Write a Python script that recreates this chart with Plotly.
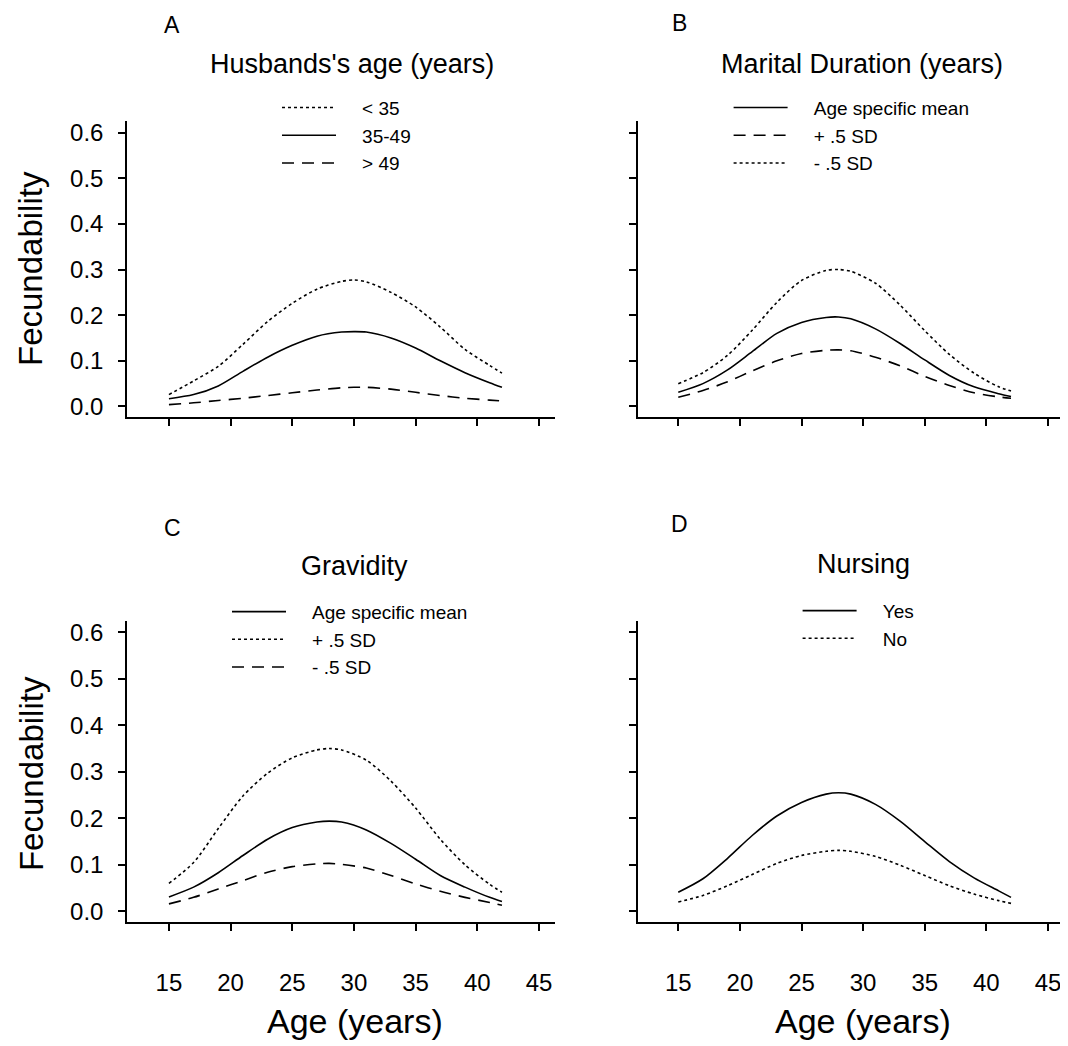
import plotly.graph_objects as go

# ---------------- data ----------------
AGES_A = [15, 17, 19, 21, 23, 25, 27, 29, 30, 31, 33, 35, 37, 39, 41, 42]
A_LT35 = [0.026, 0.056, 0.088, 0.136, 0.186, 0.226, 0.257, 0.274, 0.277, 0.273, 0.250, 0.218, 0.174, 0.125, 0.090, 0.073]
A_35_49 = [0.017, 0.026, 0.045, 0.077, 0.108, 0.134, 0.154, 0.163, 0.164, 0.163, 0.150, 0.128, 0.100, 0.074, 0.052, 0.042]
A_GT49 = [0.004, 0.008, 0.013, 0.018, 0.024, 0.030, 0.036, 0.041, 0.042, 0.042, 0.038, 0.031, 0.024, 0.018, 0.014, 0.012]

AGES = [15, 17, 19, 21, 23, 25, 27, 28, 29, 31, 33, 35, 37, 39, 41, 42]
B_MEAN = [0.031, 0.050, 0.080, 0.120, 0.160, 0.184, 0.195, 0.196, 0.192, 0.170, 0.138, 0.102, 0.068, 0.043, 0.028, 0.022]
B_PLUS = [0.020, 0.035, 0.054, 0.078, 0.100, 0.116, 0.123, 0.124, 0.122, 0.108, 0.089, 0.066, 0.046, 0.030, 0.021, 0.018]
B_MINUS = [0.050, 0.074, 0.112, 0.167, 0.228, 0.276, 0.298, 0.300, 0.296, 0.270, 0.222, 0.166, 0.114, 0.073, 0.043, 0.034]

C_MEAN = [0.031, 0.052, 0.083, 0.120, 0.155, 0.180, 0.192, 0.194, 0.192, 0.175, 0.146, 0.112, 0.077, 0.052, 0.030, 0.021]
C_PLUS = [0.060, 0.105, 0.178, 0.248, 0.297, 0.330, 0.347, 0.350, 0.347, 0.325, 0.280, 0.222, 0.155, 0.100, 0.058, 0.041]
C_MINUS = [0.016, 0.030, 0.048, 0.066, 0.084, 0.096, 0.102, 0.103, 0.101, 0.093, 0.077, 0.059, 0.043, 0.030, 0.019, 0.013]

D_YES = [0.041, 0.070, 0.114, 0.163, 0.205, 0.234, 0.252, 0.255, 0.252, 0.230, 0.194, 0.150, 0.107, 0.072, 0.044, 0.030]
D_NO = [0.020, 0.034, 0.055, 0.079, 0.103, 0.120, 0.129, 0.131, 0.129, 0.118, 0.099, 0.077, 0.055, 0.037, 0.023, 0.017]

X_TICKS = [15, 20, 25, 30, 35, 40, 45]
Y_TICKS = [0.0, 0.1, 0.2, 0.3, 0.4, 0.5, 0.6]

PANEL_LETTERS = ["A", "B", "C", "D"]
PANEL_TITLES = ["Husbands's age (years)", "Marital Duration (years)", "Gravidity", "Nursing"]
Y_TITLE = "Fecundability"
X_TITLE = "Age (years)"

# ---------------- styling ----------------
# the page body keeps an 8px margin, so the figure is drawn 8px smaller
OFF = 8
W, H = 1068 - OFF, 1046 - OFF
FONT = "Liberation Sans"
BLACK = "black"
LW = 1.6
SOLID = "solid"
DOT = "3px,3px"
DASH = "12px,8px"
PAD = "\u00a0" * 4


def px(x):
    return (x - OFF) / W


def py(y):
    return 1 - (y - OFF) / H


fig = go.Figure()


def add(x, y, name, dash, axis_idx, legend):
    xa = "x" if axis_idx == 1 else f"x{axis_idx}"
    ya = "y" if axis_idx == 1 else f"y{axis_idx}"
    fig.add_trace(go.Scatter(
        x=x, y=y, name=PAD + name, mode="lines",
        line=dict(color=BLACK, width=LW, dash=dash, shape="spline", smoothing=0.8),
        xaxis=xa, yaxis=ya, legend=legend, hoverinfo="skip"))


add(AGES_A, A_LT35, "&lt; 35", DOT, 1, "legend")
add(AGES_A, A_35_49, "35-49", SOLID, 1, "legend")
add(AGES_A, A_GT49, "&gt; 49", DASH, 1, "legend")

add(AGES, B_MEAN, "Age specific mean", SOLID, 2, "legend2")
add(AGES, B_PLUS, "+ .5 SD", DASH, 2, "legend2")
add(AGES, B_MINUS, "- .5 SD", DOT, 2, "legend2")

add(AGES, C_MEAN, "Age specific mean", SOLID, 3, "legend3")
add(AGES, C_PLUS, "+ .5 SD", DOT, 3, "legend3")
add(AGES, C_MINUS, "- .5 SD", DASH, 3, "legend3")

add(AGES, D_YES, "Yes", SOLID, 4, "legend4")
add(AGES, D_NO, "No", DOT, 4, "legend4")

axis_common = dict(
    showline=True, linecolor=BLACK, linewidth=1.5,
    ticks="outside", ticklen=7, tickwidth=1.5, tickcolor=BLACK,
    showgrid=False, zeroline=False,
    tickfont=dict(family=FONT, size=24, color=BLACK),
)

XL = [px(127), px(555)]
XR = [px(637.6), px(1064)]
YT = [py(417), py(119.6)]
YB = [py(924), py(621)]
XRANGE_L = [11.6, 46.3]
XRANGE_R = [11.7, 46.3]
YRANGE = [-0.024, 0.625]

layout_axes = {}
specs = [
    (1, XL, YT, XRANGE_L, False, True),
    (2, XR, YT, XRANGE_R, False, False),
    (3, XL, YB, XRANGE_L, True, True),
    (4, XR, YB, XRANGE_R, True, False),
]
for idx, xd, yd, xr, show_x, show_y in specs:
    xk = "xaxis" if idx == 1 else f"xaxis{idx}"
    yk = "yaxis" if idx == 1 else f"yaxis{idx}"
    ya = "y" if idx == 1 else f"y{idx}"
    xa = "x" if idx == 1 else f"x{idx}"
    layout_axes[xk] = dict(axis_common, domain=xd, range=xr, tickvals=X_TICKS,
                           showticklabels=show_x, anchor=ya, ticklabelstandoff=31)
    layout_axes[yk] = dict(axis_common, domain=yd, range=YRANGE, tickvals=Y_TICKS,
                           tickformat=".1f", showticklabels=show_y, anchor=xa,
                           ticklabelstandoff=10)

leg_common = dict(xanchor="left", yanchor="top", bgcolor="rgba(0,0,0,0)",
                  borderwidth=0, itemwidth=54, tracegroupgap=0,
                  font=dict(family=FONT, size=19, color=BLACK))

annotations = []
letter_pos = [(172, 23), (679, 21), (172, 528), (679, 524)]
title_pos = [(352, 62), (861.5, 62), (354, 566), (863, 564)]
for (lx, ly), letter in zip(letter_pos, PANEL_LETTERS):
    annotations.append(dict(x=px(lx), y=py(ly), text=letter, showarrow=False,
                            xref="paper", yref="paper", xanchor="center", yanchor="middle",
                            font=dict(family=FONT, size=23, color=BLACK)))
for (tx, ty), t in zip(title_pos, PANEL_TITLES):
    annotations.append(dict(x=px(tx), y=py(ty), text=t, showarrow=False,
                            xref="paper", yref="paper", xanchor="center", yanchor="middle",
                            font=dict(family=FONT, size=27, color=BLACK)))
for yy in (268, 775):
    annotations.append(dict(x=px(31), y=py(yy), text=Y_TITLE, textangle=-90, showarrow=False,
                            xref="paper", yref="paper", xanchor="center", yanchor="middle",
                            font=dict(family=FONT, size=33, color=BLACK)))
for xx in (355, 863):
    annotations.append(dict(x=px(xx), y=py(1023), text=X_TITLE, showarrow=False,
                            xref="paper", yref="paper", xanchor="center", yanchor="middle",
                            font=dict(family=FONT, size=34, color=BLACK)))

fig.update_layout(
    width=W, height=H, autosize=False,
    margin=dict(l=0, r=0, t=0, b=0),
    paper_bgcolor="white", plot_bgcolor="white",
    showlegend=True,
    legend=dict(leg_common, x=px(277), y=py(87)),
    legend2=dict(leg_common, x=px(728.6), y=py(87)),
    legend3=dict(leg_common, x=px(227), y=py(593)),
    legend4=dict(leg_common, x=px(797.6), y=py(592)),
    annotations=annotations,
    **layout_axes,
)

fig.write_html("out.html")
